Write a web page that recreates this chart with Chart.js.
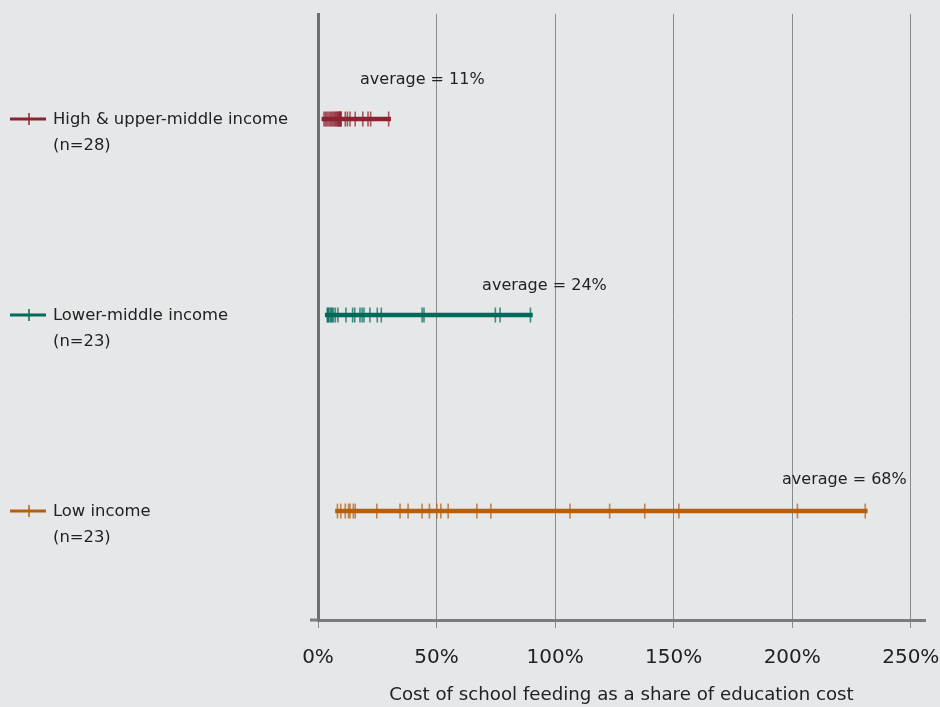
<!DOCTYPE html>
<html>
<head>
<meta charset="utf-8">
<script src="https://cdn.jsdelivr.net/npm/chart.js@4.4.1/dist/chart.umd.min.js"></script>
<style>
  html, body { margin: 0; padding: 0; background: #e6e7e9; }
  #wrap { width: 940px; height: 707px; }
</style>
</head>
<body>
<div id="wrap"><canvas id="myChart"></canvas></div>
<script>
// groups, top to bottom
const groups = ["High & upper-middle income", "Lower-middle income", "Low income"];
const groupSizes = ["(n=28)", "(n=23)", "(n=23)"];
const averages = [11, 24, 68];

// cost of school feeding as % of education cost, one value per country
const highUpper = [2.5, 3.1, 3.6, 4.2, 4.8, 5.3, 5.8, 6.3, 6.8, 7.2, 7.6, 8.0, 8.3, 8.6,
  8.9, 9.1, 9.3, 9.5, 9.6, 9.7, 11.5, 12.4, 13.5, 15.7, 18.9, 21.1, 22.2, 29.8];
const lowerMiddle = [3.9, 4.2, 4.5, 5.1, 5.6, 6.0, 6.5, 7.3, 8.4, 11.8, 14.6, 15.5, 17.7,
  18.6, 19.4, 21.9, 25.0, 26.7, 43.9, 44.7, 74.8, 76.8, 89.6];
const lowIncome = [8.2, 9.6, 11.5, 12.9, 13.5, 14.9, 15.7, 24.8, 34.6, 38.0, 43.9, 47.0,
  50.1, 51.8, 54.9, 67.0, 72.9, 106.3, 123.0, 137.8, 152.2, 202.2, 230.8];

const xTicks = [0, 50, 100, 150, 200, 250];
const colors = ["#8e2330", "#006b5a", "#b5600f"];

const series = [highUpper, lowerMiddle, lowIncome];
const rowOf = i => groups.length - i;

Chart.defaults.font.family = "'DejaVu Sans', Verdana, sans-serif";
Chart.defaults.color = "#222";

const sideLabels = {
  id: "sideLabels",
  afterDraw(chart, args, opts) {
    const { ctx } = chart;
    const x = chart.scales.x, y = chart.scales.y;
    ctx.save();
    // small overhang of the x axis to the left of the y axis
    ctx.strokeStyle = "#7c7c7c";
    ctx.lineWidth = 3;
    ctx.beginPath(); ctx.moveTo(chart.chartArea.left - 8, chart.chartArea.bottom); ctx.lineTo(chart.chartArea.left, chart.chartArea.bottom); ctx.stroke();

    groups.forEach((g, i) => {
      const py = y.getPixelForValue(rowOf(i));
      ctx.strokeStyle = colors[i];
      ctx.lineWidth = 3;
      ctx.beginPath(); ctx.moveTo(10, py); ctx.lineTo(46, py); ctx.stroke();
      ctx.lineWidth = 1.5;
      ctx.beginPath(); ctx.moveTo(29, py - 6); ctx.lineTo(29, py + 6); ctx.stroke();

      ctx.fillStyle = "#222";
      ctx.font = "16.4px 'DejaVu Sans', Verdana, sans-serif";
      ctx.textAlign = "left";
      ctx.textBaseline = "middle";
      ctx.fillText(g, 53, py + 1);
      ctx.fillText(groupSizes[i], 53, py + 27);

      ctx.font = "16px 'DejaVu Sans', Verdana, sans-serif";
      ctx.textAlign = "center";
      ctx.fillText("average = " + averages[i] + "%", x.getPixelForValue(opts.labelAt[i]), py - opts.lift[i]);
    });
    ctx.restore();
  }
};

new Chart(document.getElementById("myChart"), {
  type: "scatter",
  data: {
    datasets: series.map((vals, i) => ({
      label: groups[i],
      data: vals.map(v => ({ x: v, y: rowOf(i) })),
      showLine: true,
      borderColor: colors[i],
      borderWidth: 4.6,
      borderCapStyle: "square",
      pointStyle: "line",
      rotation: 90,
      pointRadius: 7.5,
      pointHoverRadius: 7.5,
      pointBorderWidth: 1.6,
      pointBorderColor: colors[i] + "bb"
    }))
  },
  options: {
    responsive: true,
    maintainAspectRatio: false,
    animation: false,
    layout: { padding: { top: 14, right: 15, left: 0, bottom: 0 } },
    plugins: {
      legend: { display: false },
      tooltip: { enabled: false },
      sideLabels: { labelAt: [44, 95.5, 222], lift: [39, 29, 31] }
    },
    scales: {
      x: {
        type: "linear",
        min: 0,
        max: 256,
        afterBuildTicks: s => { s.ticks = xTicks.map(v => ({ value: v })); },
        afterFit: s => { s.height = 87; s.paddingRight = 0; s.paddingLeft = 0; },
        ticks: { callback: v => v + "%", font: { size: 20 }, padding: 18, maxRotation: 0 },
        grid: { color: "#8a8a8a", lineWidth: 1, tickLength: 8 },
        border: { color: "#7c7c7c", width: 3 },
        title: {
          display: true,
          text: "Cost of school feeding as a share of education cost",
          font: { size: 18.2 },
          padding: { top: 0, bottom: 1 }
        }
      },
      y: {
        type: "linear",
        min: 0.444,
        max: 3.536,
        afterFit: s => { s.width = 318; s.paddingTop = 0; s.paddingBottom = 0; },
        ticks: { display: false },
        grid: { drawOnChartArea: false, drawTicks: false },
        border: { color: "#6f6f6f", width: 3 }
      }
    }
  },
  plugins: [sideLabels]
});
</script>
</body>
</html>
